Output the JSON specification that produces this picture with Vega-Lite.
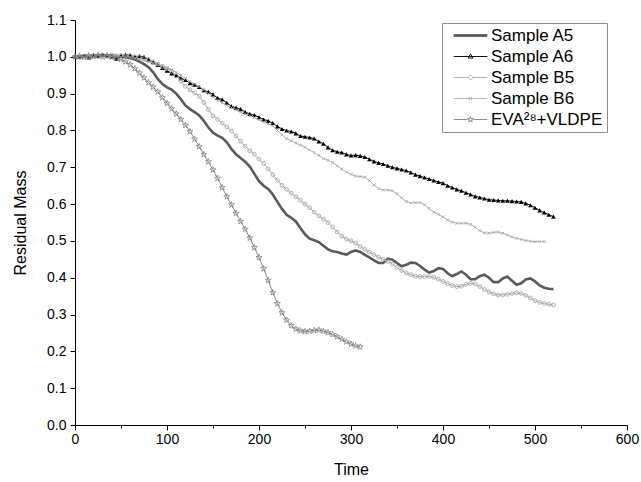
{
  "$schema": "https://vega.github.io/schema/vega-lite/v6.json",
  "width": 552,
  "height": 405,
  "autosize": "none",
  "padding": {"left": 75, "top": 20, "right": 14, "bottom": 57},
  "background": "white",
  "config": {
    "view": {"stroke": null},
    "axis": {"labelFont": "Liberation Sans", "labelFontSize": 14, "labelColor": "#000", "titleFont": "Liberation Sans", "titleFontSize": 16, "titleFontWeight": "normal", "titleColor": "#000", "domainColor": "#000", "tickColor": "#000", "grid": false, "domainWidth": 1, "tickWidth": 1}
  },
  "data": {"values": [
    {"time":0,"A5":1.000,"A6":1.000,"B5":1.000,"B6":1.000,"EVA":1.000},
    {"time":5,"A5":1.001,"A6":1.001,"B5":0.998,"B6":1.002,"EVA":1.002},
    {"time":10,"A5":1.003,"A6":1.003,"B5":1.002,"B6":0.999,"EVA":0.999},
    {"time":15,"A5":1.002,"A6":0.998,"B5":1.000,"B6":1.003,"EVA":1.003},
    {"time":20,"A5":1.004,"A6":1.004,"B5":1.003,"B6":1.001,"EVA":1.001},
    {"time":25,"A5":1.003,"A6":1.002,"B5":1.001,"B6":1.004,"EVA":1.004},
    {"time":30,"A5":1.005,"A6":1.006,"B5":1.004,"B6":1.002,"EVA":1.000},
    {"time":35,"A5":1.004,"A6":1.003,"B5":1.002,"B6":1.004,"EVA":1.003},
    {"time":40,"A5":1.004,"A6":1.001,"B5":1.005,"B6":1.001,"EVA":0.999},
    {"time":45,"A5":1.002,"A6":0.995,"B5":1.003,"B6":1.003,"EVA":0.996},
    {"time":50,"A5":1.001,"A6":1.003,"B5":1.004,"B6":1.000,"EVA":0.993},
    {"time":55,"A5":0.999,"A6":1.006,"B5":1.002,"B6":1.002,"EVA":0.987},
    {"time":60,"A5":0.996,"A6":1.004,"B5":1.003,"B6":0.999,"EVA":0.979},
    {"time":65,"A5":0.993,"A6":1.000,"B5":1.000,"B6":0.997,"EVA":0.968},
    {"time":70,"A5":0.987,"A6":1.002,"B5":0.998,"B6":0.994,"EVA":0.956},
    {"time":75,"A5":0.980,"A6":1.000,"B5":0.995,"B6":0.990,"EVA":0.943},
    {"time":80,"A5":0.972,"A6":0.993,"B5":0.992,"B6":0.986,"EVA":0.930},
    {"time":85,"A5":0.958,"A6":0.985,"B5":0.987,"B6":0.983,"EVA":0.918},
    {"time":90,"A5":0.940,"A6":0.978,"B5":0.980,"B6":0.979,"EVA":0.905},
    {"time":95,"A5":0.926,"A6":0.970,"B5":0.974,"B6":0.975,"EVA":0.889},
    {"time":100,"A5":0.917,"A6":0.962,"B5":0.968,"B6":0.970,"EVA":0.874},
    {"time":105,"A5":0.911,"A6":0.955,"B5":0.961,"B6":0.965,"EVA":0.859},
    {"time":110,"A5":0.900,"A6":0.950,"B5":0.948,"B6":0.958,"EVA":0.845},
    {"time":115,"A5":0.885,"A6":0.942,"B5":0.934,"B6":0.950,"EVA":0.830},
    {"time":120,"A5":0.868,"A6":0.937,"B5":0.920,"B6":0.941,"EVA":0.814},
    {"time":125,"A5":0.858,"A6":0.928,"B5":0.910,"B6":0.933,"EVA":0.797},
    {"time":130,"A5":0.850,"A6":0.924,"B5":0.902,"B6":0.926,"EVA":0.777},
    {"time":135,"A5":0.841,"A6":0.918,"B5":0.893,"B6":0.919,"EVA":0.756},
    {"time":140,"A5":0.826,"A6":0.909,"B5":0.876,"B6":0.910,"EVA":0.735},
    {"time":145,"A5":0.808,"A6":0.905,"B5":0.857,"B6":0.900,"EVA":0.715},
    {"time":150,"A5":0.794,"A6":0.898,"B5":0.840,"B6":0.891,"EVA":0.693},
    {"time":155,"A5":0.786,"A6":0.888,"B5":0.830,"B6":0.882,"EVA":0.670},
    {"time":160,"A5":0.780,"A6":0.884,"B5":0.820,"B6":0.875,"EVA":0.645},
    {"time":165,"A5":0.768,"A6":0.875,"B5":0.810,"B6":0.868,"EVA":0.620},
    {"time":170,"A5":0.750,"A6":0.866,"B5":0.798,"B6":0.862,"EVA":0.598},
    {"time":175,"A5":0.735,"A6":0.862,"B5":0.785,"B6":0.856,"EVA":0.575},
    {"time":180,"A5":0.725,"A6":0.858,"B5":0.771,"B6":0.850,"EVA":0.553},
    {"time":185,"A5":0.715,"A6":0.850,"B5":0.757,"B6":0.845,"EVA":0.532},
    {"time":190,"A5":0.702,"A6":0.845,"B5":0.745,"B6":0.840,"EVA":0.508},
    {"time":195,"A5":0.682,"A6":0.842,"B5":0.735,"B6":0.835,"EVA":0.482},
    {"time":200,"A5":0.662,"A6":0.836,"B5":0.722,"B6":0.829,"EVA":0.455},
    {"time":205,"A5":0.650,"A6":0.830,"B5":0.710,"B6":0.823,"EVA":0.425},
    {"time":210,"A5":0.641,"A6":0.826,"B5":0.696,"B6":0.818,"EVA":0.393},
    {"time":215,"A5":0.626,"A6":0.820,"B5":0.680,"B6":0.812,"EVA":0.360},
    {"time":220,"A5":0.606,"A6":0.811,"B5":0.665,"B6":0.800,"EVA":0.330},
    {"time":225,"A5":0.587,"A6":0.804,"B5":0.651,"B6":0.788,"EVA":0.305},
    {"time":230,"A5":0.571,"A6":0.800,"B5":0.640,"B6":0.778,"EVA":0.285},
    {"time":235,"A5":0.563,"A6":0.797,"B5":0.630,"B6":0.772,"EVA":0.270},
    {"time":240,"A5":0.553,"A6":0.792,"B5":0.620,"B6":0.766,"EVA":0.261},
    {"time":245,"A5":0.535,"A6":0.785,"B5":0.610,"B6":0.760,"EVA":0.256},
    {"time":250,"A5":0.518,"A6":0.783,"B5":0.600,"B6":0.754,"EVA":0.254},
    {"time":255,"A5":0.506,"A6":0.781,"B5":0.590,"B6":0.747,"EVA":0.255},
    {"time":260,"A5":0.502,"A6":0.778,"B5":0.578,"B6":0.740,"EVA":0.257},
    {"time":265,"A5":0.497,"A6":0.770,"B5":0.568,"B6":0.732,"EVA":0.258},
    {"time":270,"A5":0.487,"A6":0.764,"B5":0.559,"B6":0.724,"EVA":0.255},
    {"time":275,"A5":0.477,"A6":0.754,"B5":0.550,"B6":0.719,"EVA":0.251},
    {"time":280,"A5":0.472,"A6":0.746,"B5":0.538,"B6":0.713,"EVA":0.246},
    {"time":285,"A5":0.470,"A6":0.742,"B5":0.524,"B6":0.704,"EVA":0.240},
    {"time":290,"A5":0.466,"A6":0.740,"B5":0.513,"B6":0.695,"EVA":0.233},
    {"time":295,"A5":0.463,"A6":0.735,"B5":0.505,"B6":0.687,"EVA":0.226},
    {"time":300,"A5":0.470,"A6":0.732,"B5":0.500,"B6":0.681,"EVA":0.220},
    {"time":305,"A5":0.474,"A6":0.733,"B5":0.494,"B6":0.676,"EVA":0.215},
    {"time":310,"A5":0.470,"A6":0.731,"B5":0.485,"B6":0.675,"EVA":0.212},
    {"time":315,"A5":0.462,"A6":0.728,"B5":0.477,"B6":0.673,"EVA":null},
    {"time":320,"A5":0.455,"A6":0.722,"B5":0.470,"B6":0.664,"EVA":null},
    {"time":325,"A5":0.447,"A6":0.716,"B5":0.463,"B6":0.652,"EVA":null},
    {"time":330,"A5":0.440,"A6":0.712,"B5":0.456,"B6":0.642,"EVA":null},
    {"time":335,"A5":0.440,"A6":0.709,"B5":0.450,"B6":0.638,"EVA":null},
    {"time":340,"A5":0.452,"A6":0.704,"B5":0.444,"B6":0.638,"EVA":null},
    {"time":345,"A5":0.449,"A6":0.700,"B5":0.437,"B6":0.636,"EVA":null},
    {"time":350,"A5":0.440,"A6":0.697,"B5":0.428,"B6":0.628,"EVA":null},
    {"time":355,"A5":0.431,"A6":0.694,"B5":0.420,"B6":0.617,"EVA":null},
    {"time":360,"A5":0.435,"A6":0.691,"B5":0.413,"B6":0.607,"EVA":null},
    {"time":365,"A5":0.441,"A6":0.686,"B5":0.408,"B6":0.603,"EVA":null},
    {"time":370,"A5":0.440,"A6":0.680,"B5":0.404,"B6":0.604,"EVA":null},
    {"time":375,"A5":0.432,"A6":0.676,"B5":0.403,"B6":0.604,"EVA":null},
    {"time":380,"A5":0.422,"A6":0.672,"B5":0.403,"B6":0.598,"EVA":null},
    {"time":385,"A5":0.414,"A6":0.668,"B5":0.403,"B6":0.588,"EVA":null},
    {"time":390,"A5":0.418,"A6":0.664,"B5":0.401,"B6":0.578,"EVA":null},
    {"time":395,"A5":0.426,"A6":0.660,"B5":0.396,"B6":0.572,"EVA":null},
    {"time":400,"A5":0.424,"A6":0.657,"B5":0.390,"B6":0.565,"EVA":null},
    {"time":405,"A5":0.412,"A6":0.650,"B5":0.384,"B6":0.557,"EVA":null},
    {"time":410,"A5":0.404,"A6":0.645,"B5":0.379,"B6":0.551,"EVA":null},
    {"time":415,"A5":0.410,"A6":0.640,"B5":0.376,"B6":0.548,"EVA":null},
    {"time":420,"A5":0.417,"A6":0.636,"B5":0.377,"B6":0.548,"EVA":null},
    {"time":425,"A5":0.408,"A6":0.631,"B5":0.382,"B6":0.548,"EVA":null},
    {"time":430,"A5":0.396,"A6":0.626,"B5":0.385,"B6":0.545,"EVA":null},
    {"time":435,"A5":0.396,"A6":0.621,"B5":0.383,"B6":0.537,"EVA":null},
    {"time":440,"A5":0.404,"A6":0.618,"B5":0.376,"B6":0.528,"EVA":null},
    {"time":445,"A5":0.408,"A6":0.615,"B5":0.368,"B6":0.522,"EVA":null},
    {"time":450,"A5":0.400,"A6":0.612,"B5":0.361,"B6":0.521,"EVA":null},
    {"time":455,"A5":0.388,"A6":0.611,"B5":0.356,"B6":0.523,"EVA":null},
    {"time":460,"A5":0.388,"A6":0.610,"B5":0.353,"B6":0.524,"EVA":null},
    {"time":465,"A5":0.398,"A6":0.609,"B5":0.353,"B6":0.521,"EVA":null},
    {"time":470,"A5":0.403,"A6":0.609,"B5":0.355,"B6":0.516,"EVA":null},
    {"time":475,"A5":0.392,"A6":0.608,"B5":0.357,"B6":0.511,"EVA":null},
    {"time":480,"A5":0.381,"A6":0.607,"B5":0.359,"B6":0.507,"EVA":null},
    {"time":485,"A5":0.385,"A6":0.606,"B5":0.357,"B6":0.504,"EVA":null},
    {"time":490,"A5":0.395,"A6":0.602,"B5":0.352,"B6":0.501,"EVA":null},
    {"time":495,"A5":0.398,"A6":0.597,"B5":0.345,"B6":0.499,"EVA":null},
    {"time":500,"A5":0.390,"A6":0.590,"B5":0.338,"B6":0.498,"EVA":null},
    {"time":505,"A5":0.379,"A6":0.583,"B5":0.333,"B6":0.498,"EVA":null},
    {"time":510,"A5":0.373,"A6":0.577,"B5":0.330,"B6":0.498,"EVA":null},
    {"time":515,"A5":0.370,"A6":0.571,"B5":0.328,"B6":null,"EVA":null},
    {"time":520,"A5":0.369,"A6":0.566,"B5":0.326,"B6":null,"EVA":null}
  ]},
  "transform": [
    {"fold": ["A5", "A6", "B5", "B6", "EVA"], "as": ["series", "mass"]},
    {"filter": {"field": "mass", "valid": true}}
  ],
  "resolve": {"axis": {"x": "independent"}},
  "layer": [
    {
      "encoding": {
        "x": {"field": "time", "type": "quantitative", "scale": {"domain": [0, 600], "nice": false},
              "axis": {"orient": "bottom", "title": "Time", "values": [0, 100, 200, 300, 400, 500, 600], "tickSize": 5, "labelPadding": 2, "titlePadding": 15, "labelFlush": false, "labelOverlap": false}},
        "y": {"field": "mass", "type": "quantitative", "scale": {"domain": [0, 1.1], "nice": false},
              "axis": {"title": "Residual Mass", "values": [0, 0.1, 0.2, 0.3, 0.4, 0.5, 0.6, 0.7, 0.8, 0.9, 1.0, 1.1], "tickCount": 12, "format": ".1f", "tickSize": 5, "labelPadding": 4, "titlePadding": 18, "labelOverlap": false}}
      },
      "layer": [
        {
          "mark": {"type": "line", "interpolate": "linear"},
          "encoding": {
            "color": {"field": "series", "type": "nominal", "scale": {"domain": ["A5", "A6", "B5", "B6", "EVA"], "range": ["#5a5a5a", "#111111", "#b0b0b0", "#b8b8b8", "#8c8c8c"]}},
            "strokeWidth": {"condition": {"test": "datum.series === 'A5'", "value": 2.6}, "value": 1}
          }
        },
        {
          "transform": [{"filter": {"field": "series", "equal": "A6"}}],
          "mark": {"type": "point", "shape": "triangle-up", "filled": true, "color": "#000", "size": 22, "opacity": 1}
        },
        {
          "transform": [{"filter": {"field": "series", "equal": "B5"}}],
          "mark": {"type": "point", "shape": "circle", "filled": false, "color": "#a0a0a0", "size": 15, "strokeWidth": 0.8, "opacity": 1}
        },
        {
          "transform": [{"filter": {"field": "series", "equal": "B6"}}],
          "mark": {"type": "point", "shape": "M-1,-1L1,1M-1,1L1,-1", "filled": false, "color": "#a4a4a4", "size": 9, "strokeWidth": 0.8, "opacity": 1}
        },
        {
          "transform": [{"filter": {"field": "series", "equal": "EVA"}}],
          "mark": {"type": "point", "shape": "M0,-1L0.235,-0.324L0.951,-0.309L0.38,0.124L0.588,0.809L0,0.4L-0.588,0.809L-0.38,0.124L-0.951,-0.309L-0.235,-0.324Z", "filled": false, "color": "#777777", "size": 40, "strokeWidth": 0.7, "opacity": 1}
        }
      ]
    },
    {
      "transform": [{"filter": "datum.time < 0"}],
      "mark": {"type": "point", "filled": false, "opacity": 1},
      "encoding": {
        "x": {"field": "time", "type": "quantitative",
              "axis": {"orient": "bottom", "title": null, "values": [50, 150, 250, 350, 450, 550], "labels": false, "domain": false, "tickSize": 3}},
        "y": {"field": "mass", "type": "quantitative",
              "axis": {"title": "Residual Mass", "values": [0, 0.1, 0.2, 0.3, 0.4, 0.5, 0.6, 0.7, 0.8, 0.9, 1.0, 1.1], "tickCount": 12, "format": ".1f", "tickSize": 5, "labelPadding": 4, "titlePadding": 18, "labelOverlap": false}},
        "color": {"field": "series", "type": "nominal",
                  "legend": {"orient": "none", "legendX": 367, "legendY": 3, "title": null, "strokeColor": "#8c8c8c", "padding": 4, "symbolSize": 16, "labelOffset": 28, "labelFont": "Liberation Sans", "labelFontSize": 17, "labelColor": "#000", "rowPadding": 3, "symbolStrokeWidth": 1, "labelExpr": "(datum.label == 'EVA' ? 'EVA²⁸+VLDPE' : 'Sample ' + datum.label) + '          '"}},
        "shape": {"field": "series", "type": "nominal",
                  "scale": {"domain": ["A5", "A6", "B5", "B6", "EVA"], "range": [
                    "M-0.4,-0.45H16.4M-0.4,0H16.4M-0.4,0.45H16.4",
                    "M-0.4,0H16.4M8,-1.3L9.2,0.8L6.8,0.8Z",
                    "M-0.4,0H7M9,0H16.4M9,0A1,1 0 1,1 7,0A1,1 0 1,1 9,0",
                    "M-0.4,0H16.4M7.2,-0.8L8.8,0.8M7.2,0.8L8.8,-0.8",
                    "M-0.4,0H6.5M9.5,0H16.4M8,-1.5L8.353,-0.485L9.427,-0.464L8.571,0.185L8.882,1.214L8,0.6L7.118,1.214L7.429,0.185L6.573,-0.464L7.647,-0.485Z"]},
                  "legend": {"orient": "none", "legendX": 367, "legendY": 3, "title": null, "strokeColor": "#8c8c8c", "padding": 4, "symbolSize": 16, "labelOffset": 28, "labelFont": "Liberation Sans", "labelFontSize": 17, "labelColor": "#000", "rowPadding": 3, "symbolStrokeWidth": 1, "labelExpr": "(datum.label == 'EVA' ? 'EVA²⁸+VLDPE' : 'Sample ' + datum.label) + '          '"}}
      }
    }
  ]
}
